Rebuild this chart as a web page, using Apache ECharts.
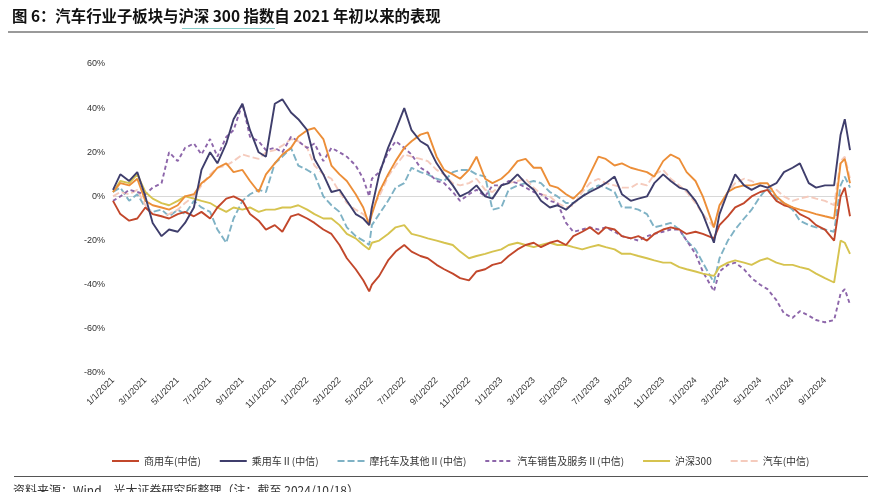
<!DOCTYPE html>
<html>
<head>
<meta charset="utf-8">
<script src="https://cdn.jsdelivr.net/npm/echarts@6/dist/echarts.min.js"></script>
<style>
html,body{margin:0;padding:0;background:#fff;}
#c{width:870px;height:492px;}
</style>
</head>
<body>
<div id="c"></div>
<script>
const dates = [
"2021-01-01","2021-01-15","2021-02-01","2021-02-15","2021-03-01","2021-03-15","2021-04-01","2021-04-15","2021-05-01","2021-05-15","2021-06-01","2021-06-15","2021-07-01","2021-07-15","2021-08-01","2021-08-15","2021-09-01","2021-09-15","2021-10-01","2021-10-15","2021-11-01","2021-11-15","2021-12-01","2021-12-15",
"2022-01-01","2022-01-15","2022-02-01","2022-02-15","2022-03-01","2022-03-15","2022-04-01","2022-04-15","2022-04-26","2022-05-01","2022-05-15","2022-06-01","2022-06-15","2022-07-01","2022-07-15","2022-08-01","2022-08-15","2022-09-01","2022-09-15","2022-10-01","2022-10-15","2022-11-01","2022-11-15","2022-12-01","2022-12-15",
"2023-01-01","2023-01-15","2023-02-01","2023-02-15","2023-03-01","2023-03-15","2023-04-01","2023-04-15","2023-05-01","2023-05-15","2023-06-01","2023-06-15","2023-07-01","2023-07-15","2023-08-01","2023-08-15","2023-09-01","2023-09-15","2023-10-01","2023-10-15","2023-11-01","2023-11-15","2023-12-01","2023-12-15",
"2024-01-01","2024-01-15","2024-02-05","2024-02-15","2024-03-01","2024-03-15","2024-04-01","2024-04-15","2024-05-01","2024-05-15","2024-06-01","2024-06-15","2024-07-01","2024-07-15","2024-08-01","2024-08-15","2024-09-01","2024-09-18","2024-09-30","2024-10-08","2024-10-18"
];

const commercial = [
-2,-8,-11,-10,-5,-8,-9,-10,-8,-7,-9,-7,-10,-5,-1,0,-2,-8,-11,-15,-13,-16,-9,-8,
-10,-12,-15,-17,-22,-28,-33,-38,-43,-40,-36,-29,-25,-22,-25,-27,-28,-31,-33,-35,-37,-38,-34,-33,-31,
-30,-27,-24,-22,-21,-23,-21,-20,-22,-18,-16,-14,-17,-14,-15,-18,-19,-18,-20,-17,-15,-14,-15,-17,
-16,-17,-19,-13,-9,-5,-3,0,2,3,-2,-4,-5,-8,-10,-13,-15,-20,0,4,-9
];
const passenger = [
3,10,7,11,0,-12,-18,-15,-16,-12,-5,12,20,15,24,35,42,30,20,18,42,44,38,35,
30,17,10,2,3,-2,-8,-10,-13,-5,10,22,30,40,30,25,23,15,10,5,0,2,5,0,-1,
5,6,10,6,3,-2,-5,-4,-6,-3,0,2,4,6,9,1,-2,-1,0,6,10,7,4,3,
-2,-8,-21,-8,2,10,5,3,5,4,6,11,13,15,6,4,5,5,28,35,21
];
const motorcycle = [
2,4,-2,1,-5,-7,-6,-9,-6,-8,-2,-5,-7,-15,-21,-10,-2,1,3,2,15,18,22,14,
12,10,0,-4,-7,-14,-18,-20,-22,-13,-8,-2,4,6,13,11,10,8,7,11,12,12,10,9,-6,
-5,3,5,6,7,6,2,0,-3,-3,0,3,5,4,2,-5,-5,-6,-8,-14,-13,-12,-15,-20,
-24,-30,-39,-28,-20,-15,-10,-6,0,4,-1,-3,-6,-11,-13,-14,-15,-16,5,9,4
];
const dealers = [
-2,0,3,2,1,4,6,20,16,22,24,19,26,18,27,30,42,27,25,21,22,20,27,25,
22,24,16,22,20,18,14,8,0,8,11,20,25,22,19,13,11,7,6,2,-2,1,3,0,5,
5,7,6,4,2,1,-2,-3,-12,-16,-15,-14,-15,-14,-16,-18,-19,-20,-18,-17,-16,-15,-15,-20,
-26,-34,-43,-34,-31,-30,-33,-37,-40,-42,-47,-53,-55,-52,-54,-56,-57,-56,-44,-42,-49
];
const csi300 = [
2,7,6,10,2,-1,-3,-4,-2,0,-1,-2,-3,-5,-7,-5,-6,-5,-7,-6,-6,-5,-5,-4,
-6,-8,-10,-10,-13,-17,-19,-22,-24,-21,-20,-17,-14,-13,-17,-18,-19,-20,-21,-22,-25,-28,-27,-26,-25,
-24,-22,-21,-22,-23,-22,-21,-22,-22,-23,-24,-23,-22,-23,-24,-26,-26,-27,-28,-29,-30,-30,-32,-33,
-34,-35,-36,-32,-30,-29,-30,-31,-29,-28,-30,-31,-31,-32,-33,-35,-37,-39,-20,-21,-26
];
const auto = [
0,2,1,3,-4,-8,-9,-8,-6,-3,0,5,10,13,14,16,19,18,17,20,21,23,26,25,
22,14,10,8,2,-3,-6,-8,-11,-5,0,9,14,19,18,17,16,12,10,6,5,6,8,3,2,
5,6,7,8,4,1,0,-3,-5,-4,2,6,8,6,5,4,4,6,5,10,12,8,5,2,
-3,-8,-14,-5,2,6,8,7,5,4,3,0,-2,-1,0,-1,-2,-4,16,18,8
];
const parts = [
2,6,5,8,-2,-4,-5,-6,-4,0,1,6,9,13,15,11,12,7,2,10,15,19,22,27,
30,31,26,14,10,7,1,-5,-13,-8,2,10,16,22,25,28,29,18,12,10,8,12,18,8,6,
8,11,16,17,13,13,5,4,1,-1,3,10,18,17,14,15,13,12,11,9,16,19,17,11,
7,0,-14,-4,2,4,5,5,6,6,0,-3,-5,-6,-7,-8,-9,-10,15,17,6
];

const seriesNames = ["商用车(中信)","乘用车Ⅱ(中信)","摩托车及其他Ⅱ(中信)","汽车销售及服务Ⅱ(中信)","沪深300","汽车(中信)","汽车零部件Ⅱ(中信)"];
const yTicks = {min:-80, max:60, step:20};

function monthIndex(s){
  const p = s.split('-').map(Number);
  const dim = new Date(p[0], p[1], 0).getDate();
  return (p[0]-2021)*12 + (p[1]-1) + (p[2]-1)/dim;
}
const xs = dates.map(monthIndex);
const pairs = arr => arr.map((v,i)=>[xs[i], v]);

const chart = echarts.init(document.getElementById('c'), null, {renderer:'canvas'});
const cjk = '"Noto Sans CJK SC", "Noto Sans", sans-serif';
const lat = '"Liberation Sans", Arial, sans-serif';

function line(name, data, color, type, z, width){
  return {
    name, type:'line', data:pairs(data), symbol:'none', smooth:false, z:z,
    lineStyle:{color, width:width||1.9, type:type||'solid'},
    itemStyle:{color},
    emphasis:{disabled:true}
  };
}

const s = [
  line(seriesNames[2], motorcycle, '#7fb2c5', [7,3], 2),
  line(seriesNames[5], auto, '#f5cbbd', [7,3], 3),
  line(seriesNames[3], dealers, '#8d66aa', [4,3], 4),
  line(seriesNames[4], csi300, '#d6c34f', 'solid', 5),
  line(seriesNames[0], commercial, '#c2472b', 'solid', 6),
  line(seriesNames[6], parts, '#ec8e38', 'solid', 7),
  line(seriesNames[1], passenger, '#3f3e6c', 'solid', 8)
];
s[0].markLine = {silent:true, symbol:'none', animation:false, z:1,
  data:[{yAxis:0}], label:{show:false}, lineStyle:{color:'#d8d8d8', type:'solid', width:1}};

chart.setOption({
  animation:false,
  backgroundColor:'#fff',
  title:{
    text:'图 6：汽车行业子板块与沪深 300 指数自 2021 年初以来的表现',
    left:7, top:3,
    textStyle:{fontFamily:cjk, fontSize:15.4, fontWeight:'bold', color:'#111'}
  },
  graphic:[
    {type:'rect', shape:{x:182, y:28, width:93, height:1}, style:{fill:'#86c9c6'}},
    {type:'rect', shape:{x:8, y:31, width:860, height:2}, style:{fill:'#9a9a9a'}},
    {type:'rect', shape:{x:14, y:476, width:854, height:1}, style:{fill:'#555'}},
    {type:'text', left:13, top:484, style:{text:'资料来源：Wind，光大证券研究所整理（注：截至 2024/10/18）', font:'12px "Noto Sans CJK SC"', fill:'#333'}}
  ],
  legend:{
    data:seriesNames.slice(0,6),
    left:106, top:451,
    itemWidth:27, itemHeight:10, itemGap:18,
    itemStyle:{opacity:0},
    textStyle:{fontFamily:cjk, fontSize:10, color:'#333'},
    selectedMode:false
  },
  grid:{left:113, right:20, top:64, bottom:119, containLabel:false},
  xAxis:{
    type:'value', min:0, max:xs[xs.length-1], interval:2,
    axisLine:{show:false}, axisTick:{show:false}, splitLine:{show:false},
    axisLabel:{
      rotate:45, margin:6, fontSize:9, color:'#333', fontFamily:lat,
      showMaxLabel:false,
      formatter:v=>{ const m=Math.round(v); return ((m%12)+1)+'/1/'+(2021+Math.floor(m/12)); }
    }
  },
  yAxis:{
    type:'value', min:yTicks.min, max:yTicks.max, interval:yTicks.step,
    axisLine:{show:false}, axisTick:{show:false}, splitLine:{show:false},
    axisLabel:{formatter:'{value}%', fontSize:9, color:'#333', fontFamily:lat, margin:8}
  },
  series:s
});
</script>
</body>
</html>
